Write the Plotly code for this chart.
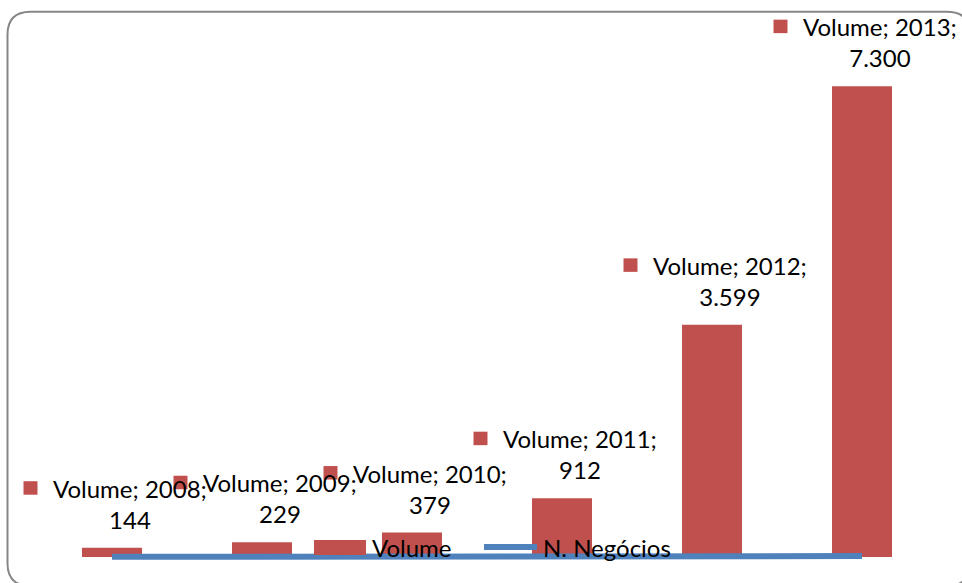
import plotly.graph_objects as go

# ---- data ----
years = [2008, 2009, 2010, 2011, 2012, 2013]
volume = [144, 229, 379, 912, 3599, 7300]
negocios = [3, 4, 6, 9, 12, 15]          # N. Negócios (tiny vs. volume, drawn flat at the base)
series_volume = "Volume"
series_neg = "N. Negócios"

RED = "#C0504D"
BLUE = "#4F81BD"
FONT = "Lato"

W, H = 962, 583
# inner plotting box (pixels) in which the category/value scales live
BX0, BX1, BY0, BY1 = 37, 937, 41, 557   # left, right, top, bottom
YMAX = 8000
# the axes span the whole figure so that labels/keys are never clipped
ux = (BX1 - BX0) / len(years)            # px per category
x_lo = years[0] - 0.5 - BX0 / ux
x_hi = years[-1] + 0.5 + (W - BX1) / ux
uy = (BY1 - BY0) / YMAX                  # px per value unit
y_lo = -(H - BY1) / uy
y_hi = YMAX + BY0 / uy


def px(x):
    return x / W


def py(y):
    return (H - y) / H


def fmt(v):
    return f"{v:,}".replace(",", ".")


fig = go.Figure()
fig.add_trace(go.Bar(x=years, y=volume, name=series_volume, width=0.4,
                     marker=dict(color=RED, line=dict(width=0)), showlegend=False))
fig.add_trace(go.Scatter(x=years, y=negocios, name=series_neg, mode="lines",
                         line=dict(color=BLUE, width=6), showlegend=False))

shapes = []
annotations = []

# data labels: legend key square + "Series; Category;\nValue"
for yr, v in zip(years, volume):
    annotations.append(dict(
        x=yr, y=v, xref="x", yref="y", showarrow=False,
        text=f"{series_volume}; {yr};<br>{fmt(v)}",
        xshift=17.5, yshift=12, yanchor="bottom", xanchor="center", align="center",
        font=dict(family=FONT, size=24, color="black")))
    shapes.append(dict(
        type="rect", xref="x", yref="y", xsizemode="pixel", ysizemode="pixel",
        xanchor=yr, yanchor=v, x0=-88.5, x1=-74.5, y0=53, y1=66.5,
        fillcolor=RED, line=dict(width=0), layer="above"))

# legend (drawn manually, overlapping the base as in the original)
shapes.append(dict(type="rect", xref="paper", yref="paper",
                   x0=px(314), x1=px(366), y0=py(555), y1=py(540),
                   fillcolor=RED, line=dict(width=0), layer="above"))
annotations.append(dict(x=px(370), y=py(547), xref="paper", yref="paper", showarrow=False,
                        text=series_volume, xanchor="left", yanchor="middle",
                        font=dict(family=FONT, size=24, color="black")))
shapes.append(dict(type="line", xref="paper", yref="paper",
                   x0=px(484), x1=px(537), y0=py(547), y1=py(547),
                   line=dict(color=BLUE, width=6), layer="above"))
annotations.append(dict(x=px(541), y=py(547), xref="paper", yref="paper", showarrow=False,
                        text=series_neg, xanchor="left", yanchor="middle",
                        font=dict(family=FONT, size=24, color="black")))

# rounded chart border
L, T, R, B, r = 7.5, 11.7, 970, 586, 23
path = (f"M {px(L+r)},{py(T)} L {px(R-r)},{py(T)} Q {px(R)},{py(T)} {px(R)},{py(T+r)} "
        f"L {px(R)},{py(B-r)} Q {px(R)},{py(B)} {px(R-r)},{py(B)} "
        f"L {px(L+r)},{py(B)} Q {px(L)},{py(B)} {px(L)},{py(B-r)} "
        f"L {px(L)},{py(T+r)} Q {px(L)},{py(T)} {px(L+r)},{py(T)} Z")
shapes.append(dict(type="path", xref="paper", yref="paper", path=path,
                   line=dict(color="#868686", width=2), layer="below"))

fig.update_layout(
    width=W, height=H,
    margin=dict(l=0, r=0, t=0, b=0, pad=0),
    paper_bgcolor="white", plot_bgcolor="rgba(0,0,0,0)",
    xaxis=dict(range=[x_lo, x_hi], showgrid=False, zeroline=False,
               showticklabels=False, showline=False, ticks=""),
    yaxis=dict(range=[y_lo, y_hi], showgrid=False, zeroline=False,
               showticklabels=False, showline=False, ticks=""),
    shapes=shapes, annotations=annotations,
    font=dict(family=FONT),
)

fig.write_html("out.html")
